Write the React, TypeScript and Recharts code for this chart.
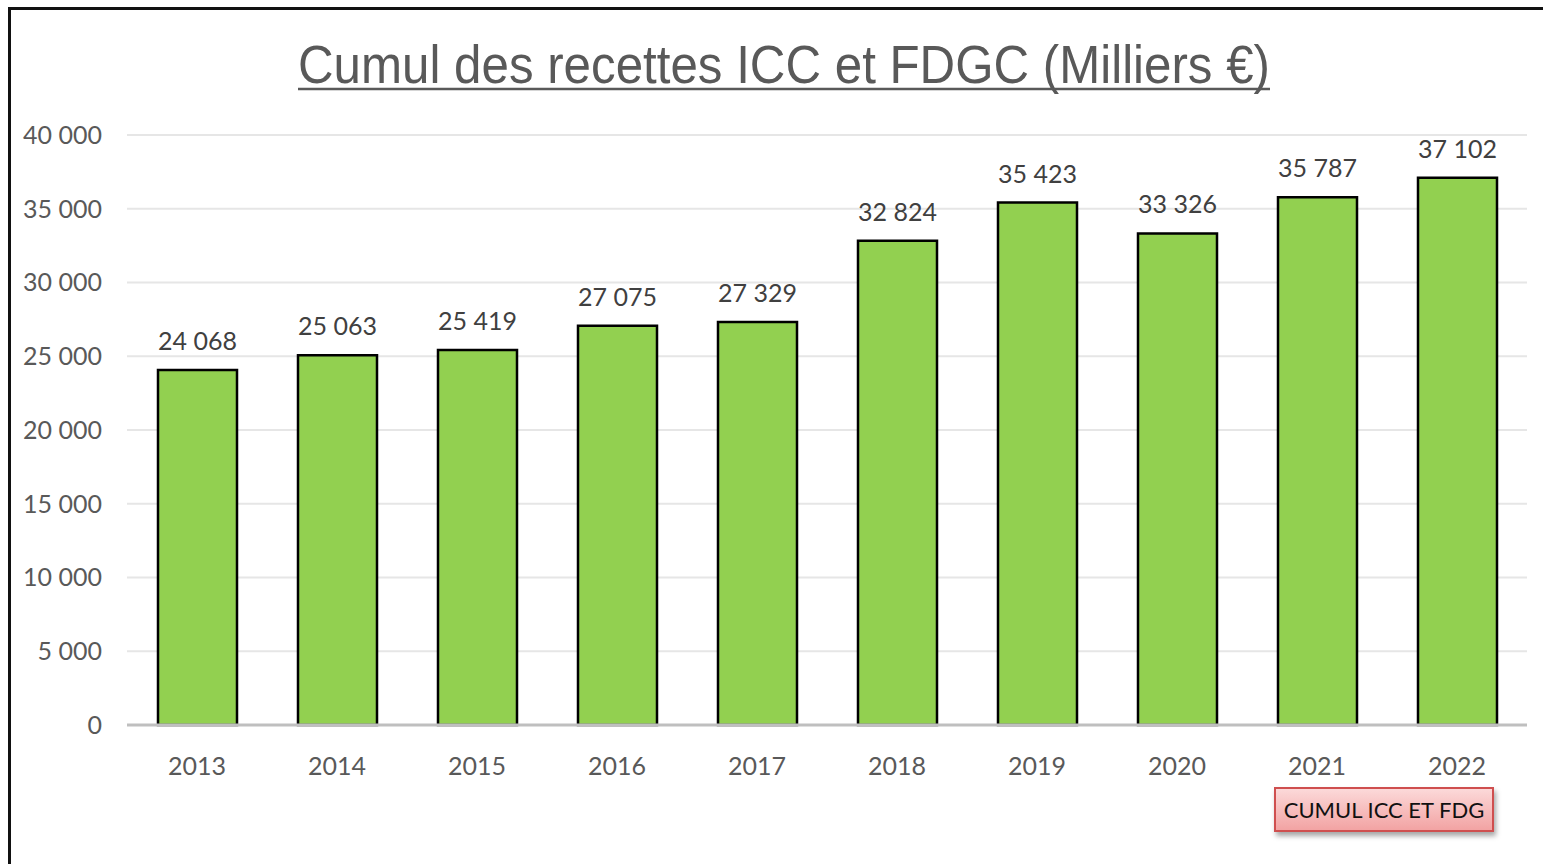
import { BarChart, Bar, XAxis, YAxis, CartesianGrid, LabelList, Legend } from 'recharts';

const years = ['2013', '2014', '2015', '2016', '2017', '2018', '2019', '2020', '2021', '2022'];
const cumul = [24068, 25063, 25419, 27075, 27329, 32824, 35423, 33326, 35787, 37102];
const yTicks = [0, 5000, 10000, 15000, 20000, 25000, 30000, 35000, 40000];
const seriesName = 'CUMUL ICC ET FDG';
const title = 'Cumul des recettes ICC et FDGC (Milliers €)';

const data = years.map((year, i) => ({ year, cumul: cumul[i] }));

// french style thousands: "24 068"
const fmt = (v: number) => String(v).replace(/\B(?=(\d{3})+(?!\d))/g, '\u00a0');

const FONT = 'Lato, "Open Sans", sans-serif';

function LegendBox() {
  return (
    <div
      style={{
        width: 220,
        height: 45,
        boxSizing: 'border-box',
        border: '2px solid #cf4f4f',
        background: 'linear-gradient(#fcd9d9, #f2a3a3)',
        boxShadow: '2px 4px 5px rgba(0,0,0,0.35)',
        display: 'flex',
        alignItems: 'center',
        justifyContent: 'center',
        fontFamily: FONT,
        fontSize: 22,
        color: '#111',
        whiteSpace: 'nowrap',
      }}
    >
      {seriesName}
    </div>
  );
}

export default function App() {
  return (
    <div
      style={{
        position: 'absolute',
        left: 0,
        top: 0,
        width: 1543,
        height: 864,
        overflow: 'hidden',
        background: '#fff',
      }}
    >
      <div
        style={{
          position: 'absolute',
          left: 8,
          top: 7,
          width: 1600,
          height: 900,
          border: '3px solid #111',
        }}
      />
      <svg width={1543} height={110} style={{ position: 'absolute', left: 0, top: 0 }}>
        <text
          x={784}
          y={83}
          textAnchor="middle"
          textLength={972}
          lengthAdjust="spacingAndGlyphs"
          fontFamily='"Liberation Sans", Arial, sans-serif'
          fontSize={54}
          fill="#595959"
        >
          {title}
        </text>
        <line x1={298} x2={1270} y1={89} y2={89} stroke="#595959" strokeWidth={2.5} />
      </svg>
      <div style={{ position: 'absolute', left: 0, top: 0 }}>
        <BarChart
          width={1543}
          height={864}
          data={data}
          margin={{ top: 135, right: 16, bottom: 99, left: 0 }}
        >
          <CartesianGrid vertical={false} stroke="#e6e6e6" strokeWidth={2} />
          <XAxis
            dataKey="year"
            height={40}
            tickLine={false}
            tickSize={0}
            tickMargin={32}
            axisLine={{ stroke: '#bfbfbf', strokeWidth: 3 }}
            tick={{ fill: '#595959', fontSize: 25, fontFamily: FONT }}
          />
          <YAxis
            width={127}
            domain={[0, 40000]}
            ticks={yTicks}
            interval={0}
            axisLine={false}
            tickLine={false}
            tickSize={0}
            tickMargin={25}
            tickFormatter={fmt}
            tick={{ fill: '#595959', fontSize: 25, fontFamily: FONT }}
          />
          <Legend
            verticalAlign="middle"
            layout="horizontal"
            content={() => <LegendBox />}
            wrapperStyle={{ position: 'absolute', left: 1274, top: 787, width: 220, height: 45 }}
          />
          <Bar
            dataKey="cumul"
            name={seriesName}
            fill="#92d050"
            stroke="#000"
            strokeWidth={2.5}
            barSize={79}
            isAnimationActive={false}
          >
            <LabelList
              dataKey="cumul"
              position="top"
              offset={20}
              formatter={(v: any) => fmt(Number(v))}
              style={{ fill: '#404040', fontSize: 25, fontFamily: FONT }}
            />
          </Bar>
        </BarChart>
      </div>
    </div>
  );
}
